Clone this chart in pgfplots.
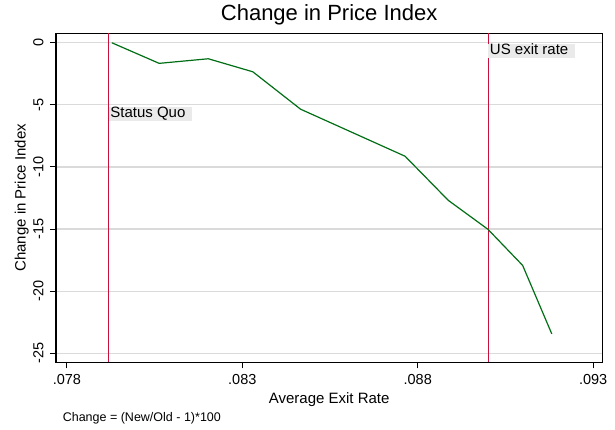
\documentclass[border=0pt]{standalone}
\usepackage{pgfplots}
\pgfplotsset{compat=1.18}
\usepackage{fontspec}
\setmainfont{Liberation Sans}

\definecolor{sqred}{RGB}{200,16,60}
\definecolor{dkgrn}{RGB}{0,110,20}
\definecolor{boxgray}{RGB}{234,234,234}
\definecolor{gridgray}{RGB}{218,218,218}

\newcommand{\fs}[1]{\fontsize{#1}{#1}\selectfont}

\begin{document}
\begin{tikzpicture}
\useasboundingbox (0,0) rectangle (615bp,430bp);
\begin{axis}[
	at={(56bp,67.7bp)}, anchor=south west,
	scale only axis,
	width=546.3bp, height=329bp,
	xmin=0.07769, xmax=0.09326,
	ymin=-25.73, ymax=0.76,
	scaled x ticks=false, scaled y ticks=false,
	xtick={0.078,0.083,0.088,0.093},
	xticklabels={.078,.083,.088,.093},
	ytick={-25,-20,-15,-10,-5,0},
	yticklabels={-25,-20,-15,-10,-5,0},
	tick align=outside,
	major tick length=6bp,
	tick style={black, line width=1bp},
	xtick pos=bottom, ytick pos=left,
	ymajorgrids,
	grid style={gridgray, line width=1.2bp},
	axis line style={black, line width=1.2bp},
	xticklabel style={anchor=base, font=\fs{14.5bp}, yshift=-16bp},
	yticklabel style={rotate=90, anchor=base, font=\fs{14.5bp}, yshift=6.7bp},
	title={Change in Price Index},
	title style={at={(axis description cs:0.5,1)}, anchor=base, yshift=7.3bp, font=\fs{22bp}},
	xlabel={Average Exit Rate},
	xlabel style={at={([yshift=-41bp]axis description cs:0.5,0)}, anchor=base, font=\fs{15bp}},
	ylabel={Change in Price Index},
	ylabel style={at={([xshift=-30.3bp]axis description cs:0,0.5)}, rotate=0, anchor=base, font=\fs{15bp}},
	]
	% reference lines
	\addplot[sqred, line width=1.3bp] coordinates {(0.07919,-25.73) (0.07919,0.76)};
	\addplot[sqred, line width=1.3bp] coordinates {(0.09001,-25.73) (0.09001,0.76)};

	\addplot[dkgrn, line width=1.2bp] coordinates {
		(0.07928,0.00)
		(0.08063,-1.66)
		(0.08203,-1.29)
		(0.08330,-2.34)
		(0.08466,-5.35)
		(0.08764,-9.14)
		(0.08887,-12.69)
		(0.09000,-15.02)
		(0.09099,-17.93)
		(0.09182,-23.44)
	};

	\node[anchor=north west, fill=boxgray, inner xsep=1.5bp, inner ysep=0.5bp,
		text height=10.9bp, text depth=2.6bp, font=\fs{15bp}]
		at ([yshift=-1.5bp]axis cs:0.07919,-5) {Status Quo\kern5bp};
	\node[anchor=north west, fill=boxgray, inner xsep=1.5bp, inner ysep=0.5bp,
		text height=10.9bp, text depth=2.6bp, font=\fs{15bp}]
		at ([yshift=-0.6bp]axis cs:0.09001,0) {US exit rate\kern5bp};
\end{axis}
\node[anchor=base west, font=\fs{12.5bp}] at (59.3bp,8.3bp) {Change = (New/Old - 1)*100};
\end{tikzpicture}
\end{document}
